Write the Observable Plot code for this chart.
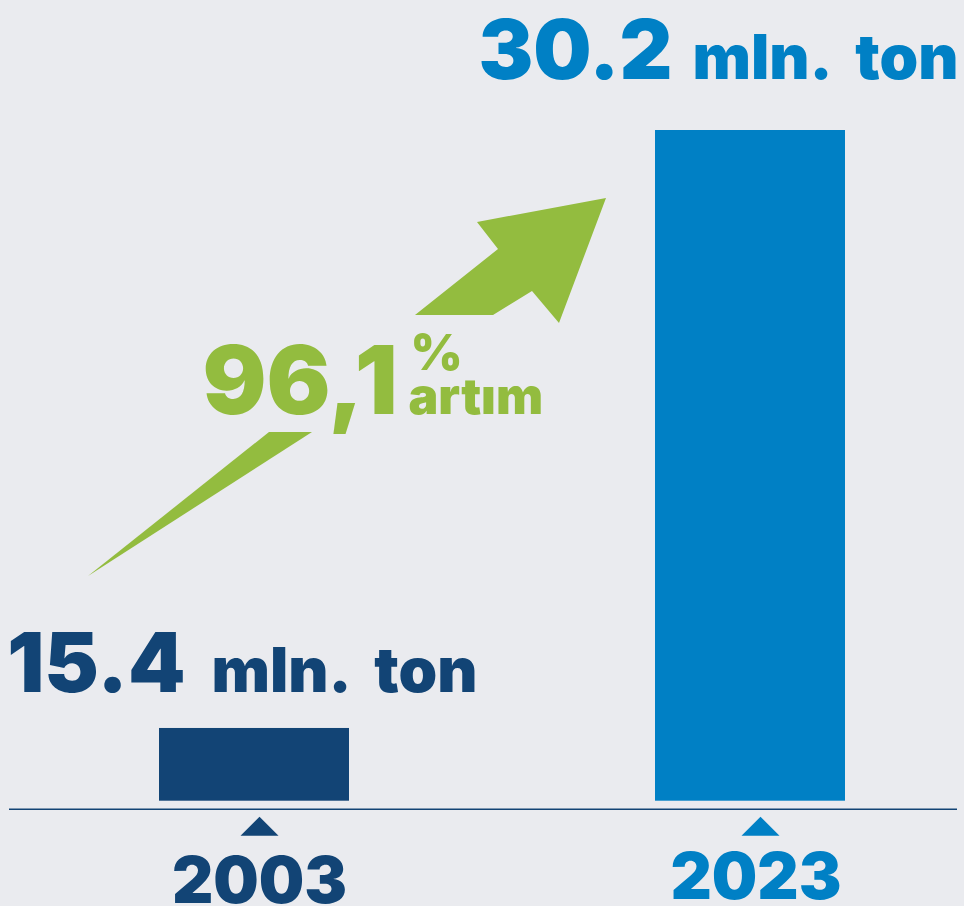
<!DOCTYPE html>
<html>
<head>
<meta charset="utf-8">
<script src="https://cdn.jsdelivr.net/npm/d3@7"></script>
<script src="https://cdn.jsdelivr.net/npm/@observablehq/plot@0.6"></script>
<style>
  html, body { margin: 0; padding: 0; background: #eaebef; }
  #chart { width: 964px; height: 906px; overflow: hidden; }
</style>
</head>
<body>
<div id="chart"></div>
<script>
// ---- data ----
const years = ["2003", "2023"];
const values = [15.4, 30.2];
const unitLabel = "mln.\u2006 ton";
const increaseWord = "artım";
const barColors = ["#124475", "#0080c5"];
const accent = "#93bc3f";
const baseValue = 13.6; // value at the bottom of the bars (truncated scale as in the infographic)

const data = years.map((year, i) => ({year, value: values[i]}));
const pctText = d3.format(".1f")((values[1] / values[0] - 1) * 100).replace(".", ",");

// ---- styling / layout ----
const FONT = "Inter, Lato, 'Open Sans', sans-serif";
const layout = {
  "2003": {numDx: -69, unitDx: -43, labelDy: -36, triDx: 5, yearDx: 5, yearDy: 102},
  "2023": {numDx: -78, unitDx: -58, labelDy: -52, triDx: 10, yearDx: 5.5, yearDy: 98}
};

// flat triangle marker
const flatTriangle = {
  draw(context, size) {
    const r = Math.sqrt(size / Math.PI);
    context.moveTo(0, -0.95 * r);
    context.lineTo(1.9 * r, 0.95 * r);
    context.lineTo(-1.9 * r, 0.95 * r);
    context.closePath();
  }
};

// decorative growth arrow (illustration, in frame pixels)
const arrowTail = [[88, 576], [269, 432], [312, 432]];
const arrowHead = [[415, 315], [493, 315], [532, 291], [559, 323], [606, 198], [477, 222], [498, 249]];
function arrowMark() {
  const g = d3.create("svg:g");
  for (const p of [arrowTail, arrowHead]) {
    g.append("path").attr("d", "M" + p.map(q => q.join(",")).join("L") + "Z").attr("fill", accent);
  }
  return g.node();
}

const perYear = data.flatMap(d => {
  const L = layout[d.year];
  return [
    Plot.text([d], {x: "year", y: "value", text: d => d3.format(".1f")(d.value), fill: "year",
      fontSize: 82, fontWeight: 900, fontFamily: FONT, textAnchor: "end", lineAnchor: "bottom",
      letterSpacing: -1.5, dx: L.numDx, dy: L.labelDy}),
    Plot.text([d], {x: "year", y: "value", text: () => unitLabel, fill: "year",
      fontSize: 62, fontWeight: 900, fontFamily: FONT, textAnchor: "start", lineAnchor: "bottom",
      dx: L.unitDx, dy: L.labelDy}),
    Plot.dot([d], {x: "year", y: () => baseValue, symbol: flatTriangle, r: 10, fill: "year",
      dx: L.triDx, dy: 25}),
    Plot.text([d], {x: "year", y: () => baseValue, text: "year", fill: "year",
      fontSize: 64, fontWeight: 900, fontFamily: FONT, textAnchor: "middle", lineAnchor: "bottom",
      dx: L.yearDx, dy: L.yearDy})
  ];
});

const chart = Plot.plot({
  width: 964,
  height: 906,
  margin: 0,
  style: {background: "#eaebef", overflow: "visible"},
  x: {type: "band", domain: years, range: [159, 845], paddingInner: 0.617, paddingOuter: 0, axis: null},
  y: {domain: [baseValue, values[1]], range: [800.7, 130], axis: null},
  color: {domain: years, range: barColors},
  marks: [
    arrowMark,
    Plot.barY(data, {x: "year", y1: () => baseValue, y2: "value", fill: "year"}),
    Plot.ruleY([baseValue], {stroke: barColors[0], strokeWidth: 1.6, dy: 8, insetLeft: 9, insetRight: 7}),
    ...perYear,
    Plot.text([pctText], {frameAnchor: "top-left", text: d => d, fill: accent, fontSize: 95,
      fontWeight: 900, fontFamily: FONT, textAnchor: "start", lineAnchor: "bottom", dx: 202, dy: 413,
      letterSpacing: -4}),
    Plot.text(["%"], {frameAnchor: "top-left", text: d => d, fill: accent, fontSize: 50,
      fontWeight: 900, fontFamily: FONT, textAnchor: "start", lineAnchor: "bottom", dx: 410, dy: 369}),
    Plot.text([increaseWord], {frameAnchor: "top-left", text: d => d, fill: accent, fontSize: 50,
      fontWeight: 900, fontFamily: FONT, textAnchor: "start", lineAnchor: "bottom", dx: 408, dy: 413})
  ]
});

document.getElementById("chart").appendChild(chart);
</script>
</body>
</html>
